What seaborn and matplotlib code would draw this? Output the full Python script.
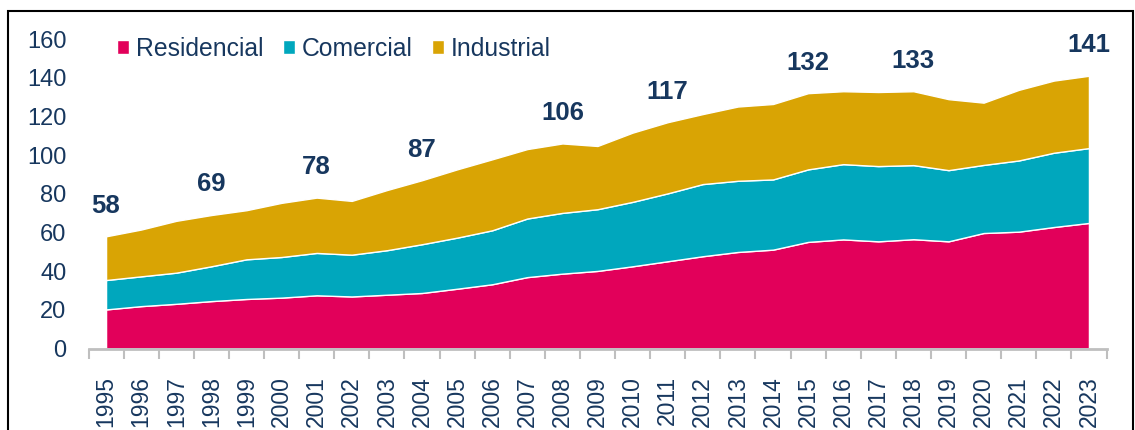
import numpy as np
import pandas as pd
import matplotlib
matplotlib.use("Agg")
import matplotlib.pyplot as plt
from matplotlib.patches import Patch, Rectangle
import seaborn as sns

years = list(range(1995, 2024))
residencial = [20.2, 21.9, 23.1, 24.5, 25.6, 26.3, 27.5, 26.9, 27.8, 28.7,
               30.9, 33.2, 36.9, 38.7, 40.1, 42.5, 45.1, 47.7, 49.9, 51.1,
               55.1, 56.4, 55.4, 56.5, 55.4, 59.7, 60.4, 62.8, 64.9]
comercial = [15.2, 15.4, 16.1, 18.0, 20.5, 21.0, 21.9, 21.6, 23.0, 25.2,
             26.4, 27.9, 30.3, 31.4, 31.9, 33.3, 35.1, 37.3, 36.8, 36.3,
             37.5, 38.9, 38.9, 38.3, 36.8, 35.2, 36.8, 38.4, 38.7]
industrial = [22.6, 24.2, 26.8, 26.5, 25.4, 28.0, 28.6, 27.8, 31.1, 33.1,
              35.3, 36.7, 35.9, 35.9, 32.7, 35.8, 36.8, 36.2, 38.4, 39.0,
              39.4, 37.7, 38.3, 38.2, 36.7, 32.2, 36.5, 37.3, 37.4]
series_names = ["Residencial", "Comercial", "Industrial"]
label_years = [1995, 1998, 2001, 2004, 2008, 2011, 2015, 2018, 2023]
y_ticks = [0, 20, 40, 60, 80, 100, 120, 140, 160]

colors = ["#E2005A", "#00A7BD", "#D9A404"]
navy = "#17375E"

df = pd.DataFrame({"Año": years, "Residencial": residencial,
                   "Comercial": comercial, "Industrial": industrial})
df["Total"] = df[series_names].sum(axis=1)

sns.set_theme(style="white")
plt.rcParams["font.family"] = ["Liberation Sans", "DejaVu Sans"]

fig = plt.figure(figsize=(11.35, 4.30), dpi=100)
ax = fig.add_axes([88.5 / 1135, 1 - 348.5 / 430, (1106.5 - 88.5) / 1135, (348.5 - 39) / 430])

xpos = np.arange(len(years))
ax.stackplot(xpos, df["Residencial"], df["Comercial"], df["Industrial"],
             colors=colors, edgecolor="white", linewidth=1.0)

ax.set_xlim(-0.5, len(years) - 0.5)
ax.set_ylim(0, 160)

ax.set_xticks(xpos)
ax.set_xticklabels([str(y) for y in years], rotation=90, fontsize=16.5, color=navy)
ax.set_xticks(np.arange(-0.5, len(years), 1), minor=True)
ax.tick_params(axis="x", which="major", length=0, pad=20)
ax.tick_params(axis="x", which="minor", length=7, width=1.5, color="#BFBFBF", bottom=True)
ax.set_yticks(y_ticks)
ax.set_yticklabels([str(v) for v in y_ticks], fontsize=17, color=navy)
ax.tick_params(axis="y", length=0, pad=16)

for s in ["top", "right", "left"]:
    ax.spines[s].set_visible(False)
ax.spines["bottom"].set_color("#BFBFBF")
ax.spines["bottom"].set_linewidth(2)

for y in label_years:
    i = years.index(y)
    tot = df["Total"].iloc[i]
    ax.annotate(f"{tot:.0f}", xy=(i, tot), xytext=(0, 22), textcoords="offset points",
                ha="center", va="center", fontsize=18.5, fontweight="bold", color=navy)

handles = [Patch(facecolor=c, edgecolor="white", label=n) for c, n in zip(colors, series_names)]
leg = ax.legend(handles=handles, loc="center left", bbox_to_anchor=(0.028, 0.968),
                ncol=3, frameon=False, fontsize=17.8, handlelength=0.5, handleheight=0.5,
                handletextpad=0.25, columnspacing=0.8, borderpad=0, borderaxespad=0)
for t in leg.get_texts():
    t.set_color(navy)

fig.patches.append(Rectangle((8 / 1135, -0.1), (1132.5 - 8) / 1135, 1.1 - 11 / 430,
                             transform=fig.transFigure, fill=False, edgecolor="black",
                             linewidth=1.5, clip_on=False))

fig.savefig("out.png", dpi=100)
